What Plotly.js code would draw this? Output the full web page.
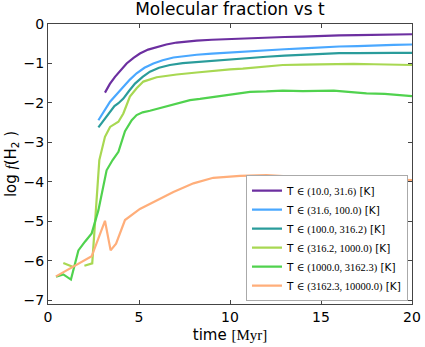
<!DOCTYPE html>
<html>
<head>
<meta charset="utf-8">
<script src="https://cdn.plot.ly/plotly-3.0.1.min.js"></script>
<style>html,body{margin:0;padding:0;background:#fff;}#chart{width:425px;height:347px;}</style>
</head>
<body>
<div id="chart"></div>
<script>
// Temperature bins (legend labels)
const binLabels = ["(10.0, 31.6)", "(31.6, 100.0)", "(100.0, 316.2)", "(316.2, 1000.0)", "(1000.0, 3162.3)", "(3162.3, 10000.0)"];
const binColors = ["#6c2fa0", "#4aa8ff", "#2a9c9b", "#a8d852", "#50d24e", "#ffae7a"];

// time [Myr] and log f(H2) per bin
const t1 = [3.13,3.4,3.68,4.0,4.32,4.7,5.05,5.5,5.97,6.5,7.07,7.6,8.17,9.0,10.0,11.0,12.0,13.0,14.0,15.0,16.0,17.0,18.0,19.0,20.0];
const f1 = [-1.74,-1.52,-1.34,-1.16,-1.0,-0.86,-0.75,-0.65,-0.58,-0.52,-0.47,-0.44,-0.42,-0.40,-0.38,-0.36,-0.34,-0.33,-0.32,-0.30,-0.29,-0.28,-0.27,-0.27,-0.26];

const t2 = [2.77,3.1,3.41,3.8,4.14,4.5,4.87,5.3,5.79,6.3,6.89,7.5,8.17,9.0,10.0,11.0,12.0,13.0,14.0,15.0,16.0,17.0,18.0,19.0,20.0];
const f2 = [-2.44,-2.2,-1.97,-1.77,-1.59,-1.41,-1.25,-1.11,-1.0,-0.92,-0.85,-0.81,-0.78,-0.75,-0.72,-0.69,-0.66,-0.64,-0.62,-0.59,-0.57,-0.56,-0.54,-0.53,-0.52];

const t3 = [2.77,3.1,3.41,3.65,3.87,4.14,4.45,4.78,5.2,5.6,6.1,6.7,7.4,8.17,9.0,10.0,11.0,12.0,13.0,14.0,15.0,16.0,17.0,18.0,19.0,20.0];
const f3 = [-2.62,-2.42,-2.22,-2.08,-2.01,-1.89,-1.70,-1.51,-1.34,-1.21,-1.11,-1.04,-0.99,-0.96,-0.93,-0.90,-0.86,-0.83,-0.80,-0.78,-0.76,-0.74,-0.74,-0.73,-0.73,-0.73];

const t4 = [0.84,1.39,1.7,2.0,2.43,2.82,3.13,3.41,3.87,4.14,4.5,4.87,5.24,5.97,7.07,8.17,9.0,10.0,10.7,11.8,12.9,14.0,15.0,15.7,16.8,17.9,19.0,20.0];
const f4 = [-6.06,-6.16,null,-6.13,-6.07,-3.45,-2.86,-2.61,-2.48,-2.27,-1.84,-1.63,-1.46,-1.35,-1.28,-1.23,-1.19,-1.15,-1.13,-1.09,-1.04,-1.03,-1.02,-1.02,-1.01,-1.02,-1.03,-1.04];

const t5 = [0.44,0.84,1.26,1.67,2.03,2.4,2.77,3.0,3.22,3.55,3.87,4.23,4.6,4.87,5.2,5.6,6.1,6.7,7.2,7.8,8.35,9.0,9.45,10.2,11.1,12.0,12.9,14.0,15.0,15.7,16.5,17.5,18.5,19.2,20.0];
const f5 = [-6.41,-6.35,-6.48,-5.74,-5.52,-5.31,-4.72,-4.2,-3.71,-3.45,-3.24,-2.72,-2.44,-2.31,-2.24,-2.2,-2.14,-2.08,-2.01,-1.93,-1.90,-1.86,-1.83,-1.78,-1.72,-1.71,-1.69,-1.70,-1.70,-1.69,-1.72,-1.76,-1.77,-1.80,-1.83];

const t6 = [0.44,1.5,2.4,3.13,3.44,3.74,4.23,5.05,5.79,6.89,7.99,9.08,10.55,12.0,13.85,16.0,17.9,20.0];
const f6 = [-6.40,-6.12,-5.89,-4.99,-5.74,-5.57,-4.97,-4.69,-4.51,-4.26,-4.04,-3.90,-3.85,-3.83,-3.88,-3.90,-3.93,-3.96];

const xTicks = [0,5,10,15,20];
const yTicks = [-7,-6,-5,-4,-3,-2,-1,0];

const tAll = [t1,t2,t3,t4,t5,t6];
const fAll = [f1,f2,f3,f4,f5,f6];
const serif = "'Liberation Serif', 'DejaVu Serif', serif";

const traces = binLabels.map((lab, i) => ({
  x: tAll[i], y: fAll[i], type: 'scatter', mode: 'lines',
  connectgaps: false,
  name: 'T <span style="font-family:' + serif + '">∈ ' + lab + '</span> [K]',
  line: {color: binColors[i], width: 2.2}
}));

const axisCommon = {
  showline: true, mirror: 'ticks', linecolor: '#444', linewidth: 1,
  ticks: 'inside', ticklen: 4, tickcolor: '#444', tickwidth: 1,
  showgrid: false, zeroline: false,
  tickfont: {family: 'DejaVu Sans', size: 14, color: '#000'}
};

const layout = {
  width: 425, height: 347,
  margin: {l: 48, r: 13, t: 24, b: 43, pad: 0},
  paper_bgcolor: '#fff', plot_bgcolor: '#fff',
  font: {family: 'DejaVu Sans', color: '#000'},
  title: {text: 'Molecular fraction vs t', font: {family: 'DejaVu Sans', size: 17, color: '#000'},
          x: 0.5, xref: 'paper', y: 1 - 3/347, yref: 'container', yanchor: 'top'},
  xaxis: Object.assign({}, axisCommon, {
    range: [0, 20], tickvals: xTicks, ticktext: xTicks.map(String),
    title: {text: 'time <span style="font-family:' + serif + '">[Myr]</span>', font: {family: 'DejaVu Sans', size: 15}, standoff: 5}
  }),
  yaxis: Object.assign({}, axisCommon, {
    range: [-7.1, 0], tickvals: yTicks,
    title: {text: 'log <i style="font-family:' + serif + '">f</i>(H<sub>2</sub> )', font: {family: 'DejaVu Sans', size: 15}, standoff: 3}
  }),
  showlegend: true,
  legend: {
    x: 0.989, y: 0.01, xanchor: 'right', yanchor: 'bottom',
    bgcolor: '#fff', bordercolor: '#aaa', borderwidth: 1,
    font: {family: 'DejaVu Sans', size: 10.5, color: '#000'},
    itemwidth: 30, tracegroupgap: 0
  }
};

Plotly.newPlot('chart', traces, layout, {displayModeBar: false, staticPlot: true});
</script>
</body>
</html>
